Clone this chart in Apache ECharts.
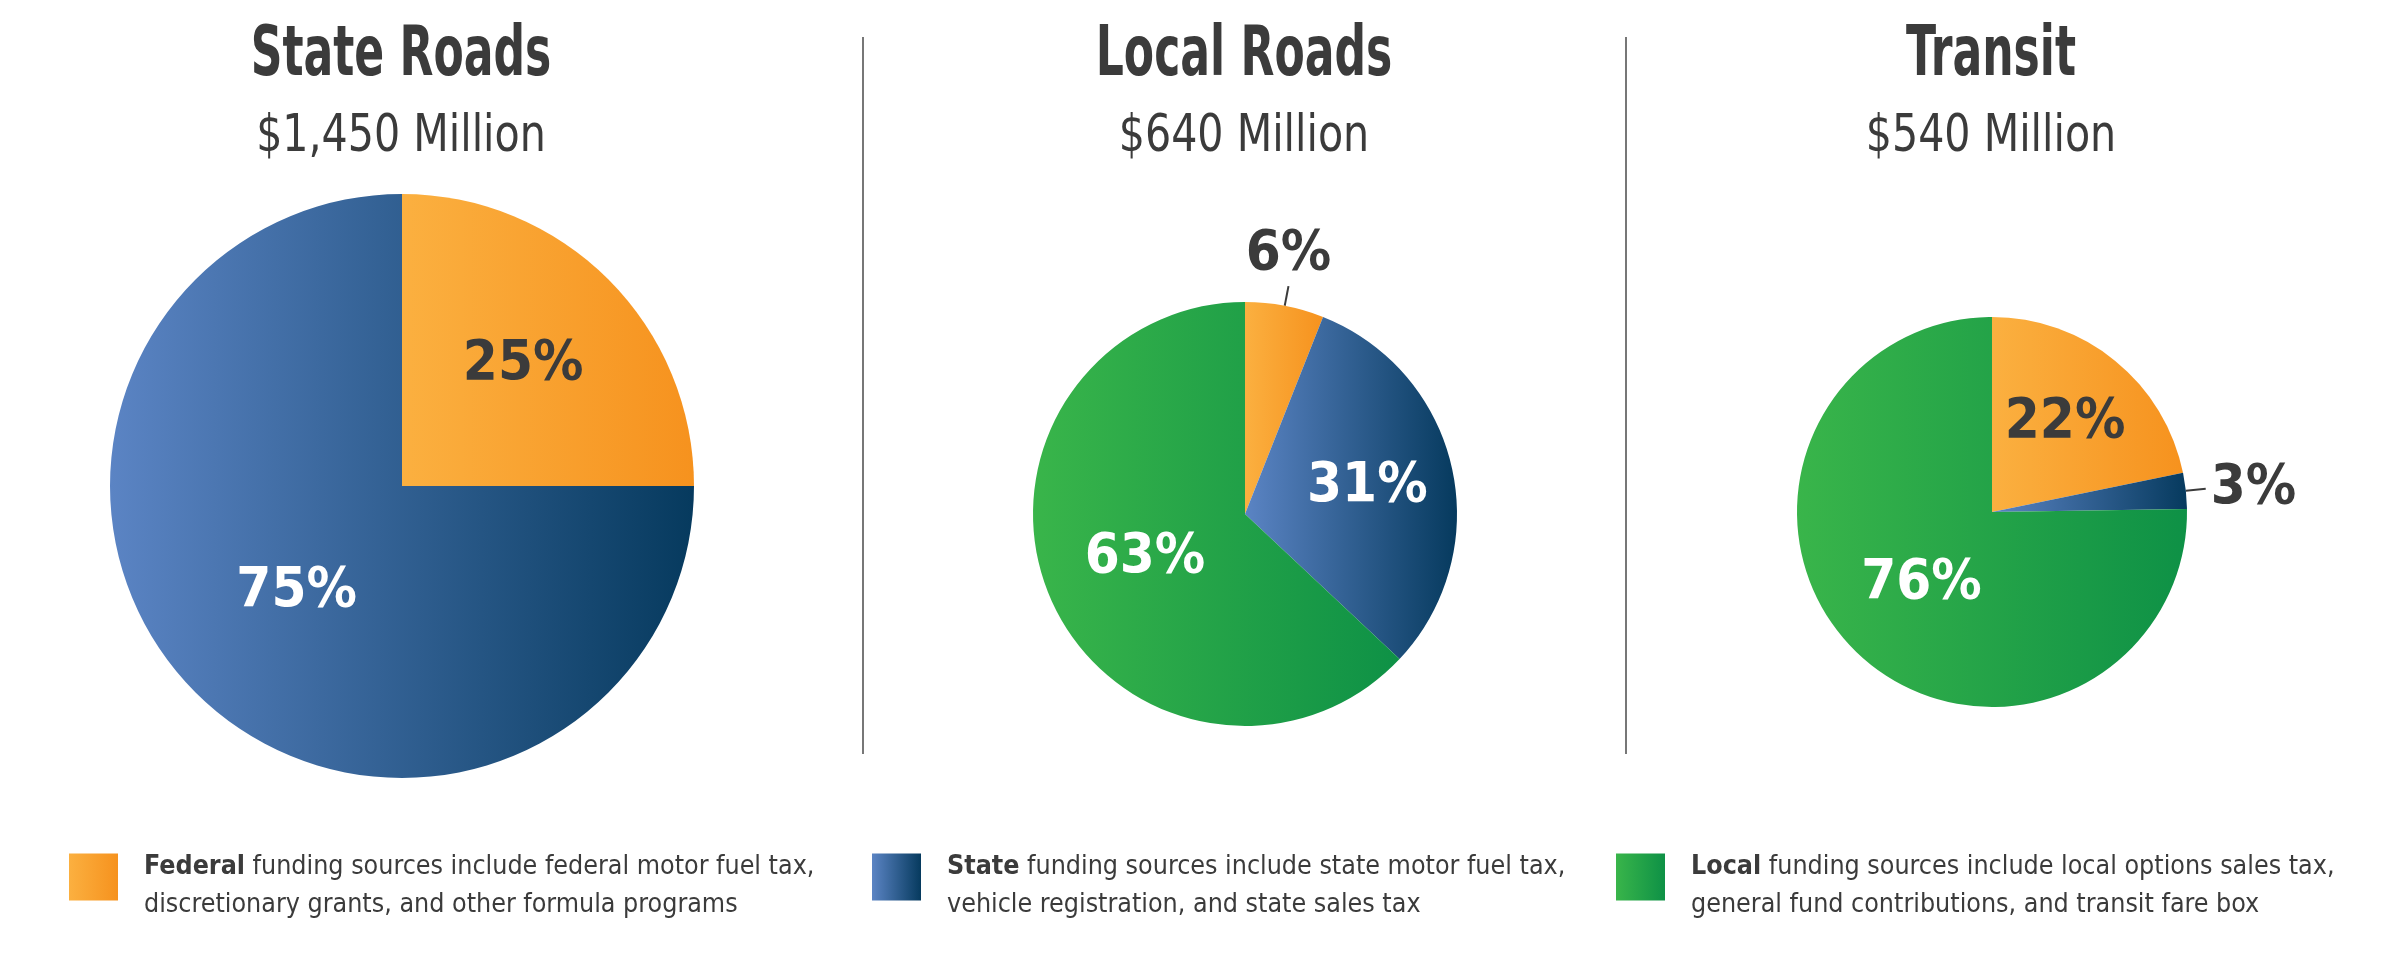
<!DOCTYPE html>
<html>
<head>
<meta charset="utf-8">
<title>Funding sources</title>
<script src="https://cdn.jsdelivr.net/npm/echarts@6/dist/echarts.min.js"></script>
<style>
  html, body { margin: 0; padding: 0; background: #fff; }
  #chart { width: 2402px; height: 974px; }
</style>
</head>
<body>
<div id="chart"></div>
<script>
var FONT = '"DejaVu Sans Condensed", "Liberation Sans Narrow", sans-serif';
var TEXT = '#3b3b3b';

// data
var panels = ['State Roads', 'Local Roads', 'Transit'];
var totals = ['$1,450 Million', '$640 Million', '$540 Million'];
var sources = ['Federal', 'State', 'Local'];
var stateRoads = [25, 75, null];
var localRoads = [6, 31, 63];
var transit = [22, 3, 76];
var legendText = [
	'funding sources include federal motor fuel tax,\ndiscretionary grants, and other formula programs',
	'funding sources include state motor fuel tax,\nvehicle registration, and state sales tax',
	'funding sources include local options sales tax,\ngeneral fund contributions, and transit fare box'
];

function grad(a, b){
	return new echarts.graphic.LinearGradient(0, 0, 1, 0, [
		{offset: 0, color: a},
		{offset: 1, color: b}
	]);
}
var fills = [grad('#fbb040', '#f6921e'), grad('#5b84c4', '#063a5e'), grad('#39b54a', '#0e9146')];

// which slices get dark text / go outside
function makeData(values, outside){
	var out = [];
	for(var i=0; i<values.length; i++){
		if(values[i] == null) continue;
		var item = {name: sources[i], value: values[i], itemStyle: {color: fills[i]}};
		if(outside.indexOf(i) >= 0){
			item.label = {position: 'outside', color: TEXT};
			item.labelLine = {show: true};
		}else if(i == 0){
			item.label = {color: TEXT};
		}
		out.push(item);
	}
	return out;
}

// inner labels of the smaller slices sit a bit further out;
// an outside label (6%) sits centred above its leader
function placeLabels(center, values, above){
	return function(p){
		if(p.labelLinePoints){
			if(!above) return;
			var pts = p.labelLinePoints;
			return {
				x: pts[1][0], y: pts[1][1] - 4,
				align: 'center', verticalAlign: 'bottom',
				labelLinePoints: [pts[0], pts[1], pts[1]]
			};
		}
		var v = values.filter(function(d){ return d != null; })[p.dataIndex];
		var k = v < 40 ? 1.15 : 1;
		var r = p.labelRect;
		var cx = r.x + r.width / 2, cy = r.y + r.height / 2;
		return {
			x: center[0] + (cx - center[0]) * k,
			y: center[1] + (cy - center[1]) * k,
			align: 'center', verticalAlign: 'middle'
		};
	};
}

function pie(center, radius, values, outside, above){
	return {
		type: 'pie',
		center: center,
		radius: radius,
		startAngle: 90,
		clockwise: true,
		avoidLabelOverlap: false,
		silent: true,
		label: {
			show: true,
			position: 'inner',
			formatter: '{c}%',
			fontFamily: FONT,
			fontSize: 56,
			fontWeight: 'bold',
			color: '#fff'
		},
		labelLine: {
			show: false,
			length: 20,
			length2: 0,
			lineStyle: {color: TEXT, width: 2}
		},
		labelLayout: placeLabels(center, values, above),
		data: makeData(values, outside)
	};
}

// titles are drawn squeezed to get close to the condensed face of the original
var titleX = [401, 1244, 1991];
var graphics = [];
for(var i=0; i<panels.length; i++){
	graphics.push({
		type: 'text', x: titleX[i], y: 57, scaleX: 0.7,
		style: {text: panels[i], fill: TEXT, font: 'bold 70px ' + FONT,
			align: 'center', textAlign: 'center', verticalAlign: 'middle', textVerticalAlign: 'middle'}
	});
	graphics.push({
		type: 'text', x: titleX[i], y: 137, scaleX: 0.88,
		style: {text: totals[i], fill: TEXT, font: '52px ' + FONT,
			align: 'center', textAlign: 'center', verticalAlign: 'middle', textVerticalAlign: 'middle'}
	});
}
graphics.push(
	{type: 'line', shape: {x1: 863, y1: 37, x2: 863, y2: 754}, style: {stroke: '#777', lineWidth: 2}},
	{type: 'line', shape: {x1: 1626, y1: 37, x2: 1626, y2: 754}, style: {stroke: '#777', lineWidth: 2}}
);

var legendX = [69, 872, 1616];
var legends = [];
for(var i=0; i<sources.length; i++){
	(function(k){
		legends.push({
			data: [sources[k]],
			left: legendX[k],
			top: 830,
			padding: 0,
			icon: 'rect',
			itemWidth: 49,
			itemHeight: 47,
			selectedMode: false,
			formatter: function(name){
				return '{b|' + name + '} ' + legendText[k];
			},
			textStyle: {
				fontFamily: FONT,
				fontSize: 26.6,
				lineHeight: 38,
				color: TEXT,
				padding: [18, 0, 0, 21],
				rich: {
					b: {fontFamily: FONT, fontSize: 26.6, lineHeight: 38, fontWeight: 'bold', color: TEXT}
				}
			}
		});
	})(i);
}

var myChart = echarts.init(document.getElementById('chart'));
var option = {
	backgroundColor: '#fff',
	animation: false,
	legend: legends,
	graphic: graphics,
	series: [
		pie([402, 486], 292, stateRoads, [], false),
		pie([1245, 514], 212, localRoads, [0], true),
		pie([1992, 512], 195, transit, [1], false)
	]
};
myChart.setOption(option);
</script>
</body>
</html>
